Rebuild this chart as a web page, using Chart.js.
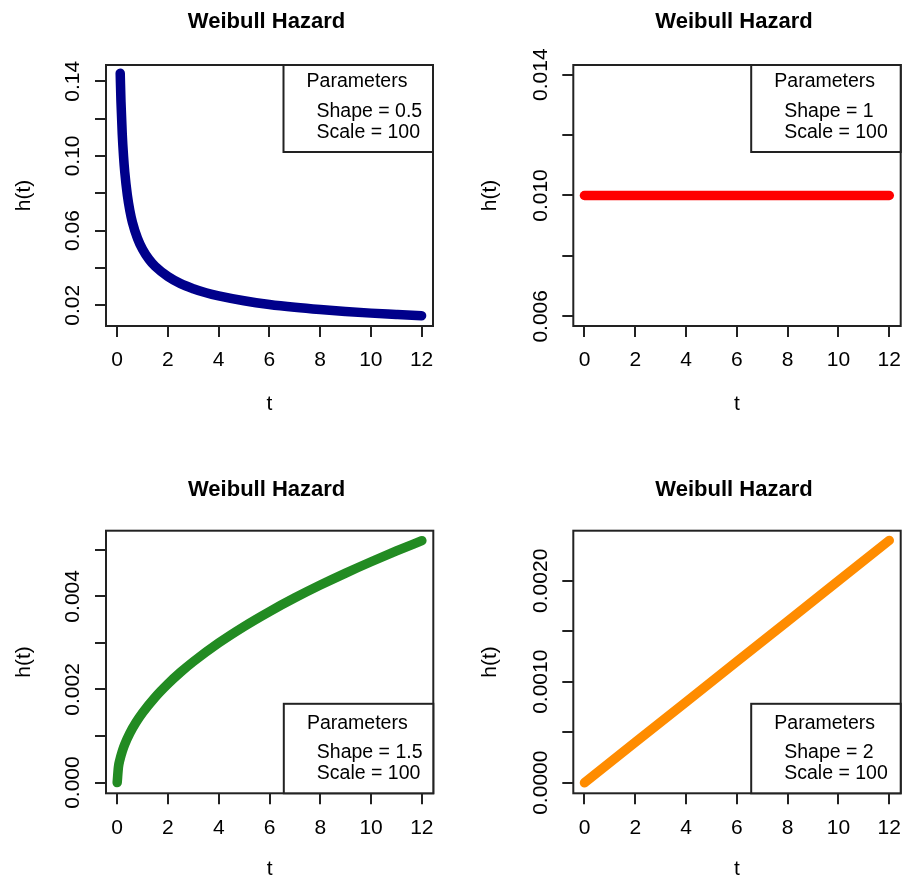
<!DOCTYPE html>
<html>
<head>
<meta charset="utf-8">
<script src="https://cdn.jsdelivr.net/npm/chart.js@4.4.1/dist/chart.umd.min.js"></script>
<style>
  html, body { margin: 0; padding: 0; background: #fff; }
  #wrap { position: relative; width: 903px; height: 882px; }
  .panel { position: absolute; }
</style>
</head>
<body>
<div id="wrap">
  <div class="panel" style="left:0;top:0"><canvas id="c1" width="451" height="441"></canvas></div>
  <div class="panel" style="left:451px;top:0"><canvas id="c2" width="452" height="441"></canvas></div>
  <div class="panel" style="left:0;top:441px"><canvas id="c3" width="451" height="441"></canvas></div>
  <div class="panel" style="left:451px;top:441px"><canvas id="c4" width="452" height="441"></canvas></div>
</div>
<script>
const FONT = "'Liberation Sans', Arial, Helvetica, sans-serif";

// values
const t05 = [0.12, 0.15, 0.2, 0.25, 0.3, 0.4, 0.5, 0.6, 0.8, 1, 1.25, 1.5, 2, 2.5, 3, 3.5, 4, 5, 6, 7, 8, 9, 10, 11, 12];
const h05 = [0.1443, 0.1291, 0.1118, 0.1000, 0.0913, 0.0791, 0.0707, 0.0645, 0.0559, 0.0500, 0.0447, 0.0408, 0.0354, 0.0316,
             0.0289, 0.0267, 0.0250, 0.0224, 0.0204, 0.0189, 0.0177, 0.0167, 0.0158, 0.0151, 0.0144];

const t10 = [0, 2, 4, 6, 8, 10, 12];
const h10 = [0.01, 0.01, 0.01, 0.01, 0.01, 0.01, 0.01];

const t15 = [0, 0.05, 0.1, 0.2, 0.3, 0.5, 0.75, 1, 1.5, 2, 2.5, 3, 4, 5, 6, 7, 8, 9, 10, 11, 12];
const h15 = [0, 0.000335, 0.000474, 0.000671, 0.000822, 0.001061, 0.001299, 0.0015, 0.001837, 0.002121, 0.002372,
             0.002598, 0.003, 0.003354, 0.003674, 0.003969, 0.004243, 0.0045, 0.004743, 0.004975, 0.005196];

const t20 = [0, 2, 4, 6, 8, 10, 12];
const h20 = [0, 0.0004, 0.0008, 0.0012, 0.0016, 0.002, 0.0024];

// axis ticks
const xTicks = [0, 2, 4, 6, 8, 10, 12];
const yTicks05 = [0.02, 0.04, 0.06, 0.08, 0.10, 0.12, 0.14];
const yLabels05 = ['0.02', '', '0.06', '', '0.10', '', '0.14'];
const yTicks10 = [0.006, 0.008, 0.010, 0.012, 0.014];
const yLabels10 = ['0.006', '', '0.010', '', '0.014'];
const yTicks15 = [0, 0.001, 0.002, 0.003, 0.004, 0.005];
const yLabels15 = ['0.000', '', '0.002', '', '0.004', ''];
const yTicks20 = [0, 0.0005, 0.001, 0.0015, 0.002];
const yLabels20 = ['0.0000', '', '0.0010', '', '0.0020'];

const legend05 = ['Shape = 0.5', 'Scale = 100'];
const legend10 = ['Shape = 1', 'Scale = 100'];
const legend15 = ['Shape = 1.5', 'Scale = 100'];
const legend20 = ['Shape = 2', 'Scale = 100'];

// title, box, rotated y labels, legend
const decorPlugin = {
    id: 'decor',
    afterDraw(chart, args, opts) {
        const { ctx, chartArea: a } = chart;
        const yScale = chart.scales.y;
        ctx.save();
        ctx.strokeStyle = '#222';
        ctx.lineWidth = 2;
        ctx.strokeRect(a.left, a.top, a.right - a.left, a.bottom - a.top);

        ctx.fillStyle = '#000';
        ctx.font = 'bold 22px ' + FONT;
        ctx.textAlign = 'center';
        ctx.textBaseline = 'middle';
        ctx.fillText('Weibull Hazard', (a.left + a.right) / 2 - 3, opts.titleY + 2);

        ctx.font = '21px ' + FONT;
        opts.yTicks.forEach((v, i) => {
            const lab = opts.yLabels[i];
            if (!lab) return;
            const py = yScale.getPixelForValue(v);
            ctx.save();
            ctx.translate(a.left - 32.5, py);
            ctx.rotate(-Math.PI / 2);
            ctx.fillText(lab, 0, 0);
            ctx.restore();
        });

        // legend box
        const top = opts.legendPos === 'top';
        const lw = 149.5;
        const lh = top ? 87 : 89.5;
        const lx = a.right - lw;
        const ly = top ? a.top : a.bottom - lh;
        const off = top ? [17, 47, 68] : [19.7, 49, 69.7];
        ctx.fillStyle = '#fff';
        ctx.fillRect(lx, ly, lw, lh);
        ctx.strokeRect(lx, ly, lw, lh);
        ctx.fillStyle = '#000';
        ctx.font = '19.5px ' + FONT;
        ctx.textAlign = 'center';
        ctx.fillText('Parameters', lx + 73.5, ly + off[0]);
        ctx.textAlign = 'left';
        ctx.fillText(opts.legend[0], lx + 33, ly + off[1]);
        ctx.fillText(opts.legend[1], lx + 33, ly + off[2]);
        ctx.restore();
    }
};

function makePanel(id, p) {
    const pts = p.t.map((x, i) => ({ x: x, y: p.h[i] }));
    const ctx = document.getElementById(id).getContext('2d');
    return new Chart(ctx, {
        type: 'scatter',
        data: {
            datasets: [{
                data: pts,
                showLine: true,
                borderColor: p.color,
                backgroundColor: p.color,
                borderWidth: 9.5,
                borderCapStyle: 'round',
                borderJoinStyle: 'round',
                cubicInterpolationMode: 'monotone',
                pointRadius: 0,
                clip: false
            }]
        },
        options: {
            responsive: false,
            animation: false,
            events: [],
            layout: {
                padding: { left: 0, top: p.box.top, right: p.canvasW - p.box.right, bottom: p.padBottom }
            },
            scales: {
                x: {
                    type: 'linear',
                    min: -0.44,
                    max: 12.45,
                    afterBuildTicks: s => { s.ticks = xTicks.map(v => ({ value: v })); },
                    afterFit: s => { s.height = p.xH; s.paddingLeft = 0; s.paddingRight = 0; },
                    grid: { display: true, drawOnChartArea: false, drawTicks: true, tickLength: 11, color: '#222', lineWidth: 2 },
                    border: { display: false },
                    ticks: { padding: 11, color: '#000', font: { family: FONT, size: 21 }, maxRotation: 0, autoSkip: false },
                    title: { display: true, text: 't', color: '#000', font: { family: FONT, size: 21 }, padding: { top: 0, bottom: 0 } }
                },
                y: {
                    type: 'linear',
                    min: p.yMin,
                    max: p.yMax,
                    afterBuildTicks: s => { s.ticks = p.yTicks.map(v => ({ value: v })); },
                    afterFit: s => { s.width = p.box.left; s.paddingTop = 0; s.paddingBottom = 0; },
                    grid: { display: true, drawOnChartArea: false, drawTicks: true, tickLength: 11, color: '#222', lineWidth: 2 },
                    border: { display: false },
                    ticks: { display: false },
                    title: { display: true, text: 'h(t)', color: '#000', font: { family: FONT, size: 21 }, padding: { top: p.hPad, bottom: 0 } }
                }
            },
            plugins: {
                legend: { display: false },
                title: { display: false },
                tooltip: { enabled: false },
                decor: {
                    titleY: p.titleY,
                    yTicks: p.yTicks,
                    yLabels: p.yLabels,
                    legend: p.legend,
                    legendPos: p.legendPos
                }
            }
        },
        plugins: [decorPlugin]
    });
}

makePanel('c1', {
    t: t05, h: h05, color: '#00008B',
    canvasW: 451, box: { left: 106, top: 65, right: 433 }, padBottom: 24.4, xH: 90.6,
    yMin: 0.0089, yMax: 0.1487, yTicks: yTicks05, yLabels: yLabels05,
    hPad: 12, titleY: 20, legend: legend05, legendPos: 'top'
});
makePanel('c2', {
    t: t10, h: h10, color: '#FF0000',
    canvasW: 452, box: { left: 122.3, top: 65, right: 449.7 }, padBottom: 24.4, xH: 90.6,
    yMin: 0.00568, yMax: 0.01432, yTicks: yTicks10, yLabels: yLabels10,
    hPad: 26.7, titleY: 20, legend: legend10, legendPos: 'top'
});
makePanel('c3', {
    t: t15, h: h15, color: '#228B22',
    canvasW: 451, box: { left: 106, top: 89.7, right: 433.3 }, padBottom: 0, xH: 88.7,
    yMin: -0.00023, yMax: 0.00541, yTicks: yTicks15, yLabels: yLabels15,
    hPad: 12, titleY: 46.5, legend: legend15, legendPos: 'bottom'
});
makePanel('c4', {
    t: t20, h: h20, color: '#FF8C00',
    canvasW: 452, box: { left: 122.3, top: 89.7, right: 449.7 }, padBottom: 0, xH: 88.7,
    yMin: -0.000105, yMax: 0.002496, yTicks: yTicks20, yLabels: yLabels20,
    hPad: 26.7, titleY: 46.5, legend: legend20, legendPos: 'bottom'
});
</script>
</body>
</html>
